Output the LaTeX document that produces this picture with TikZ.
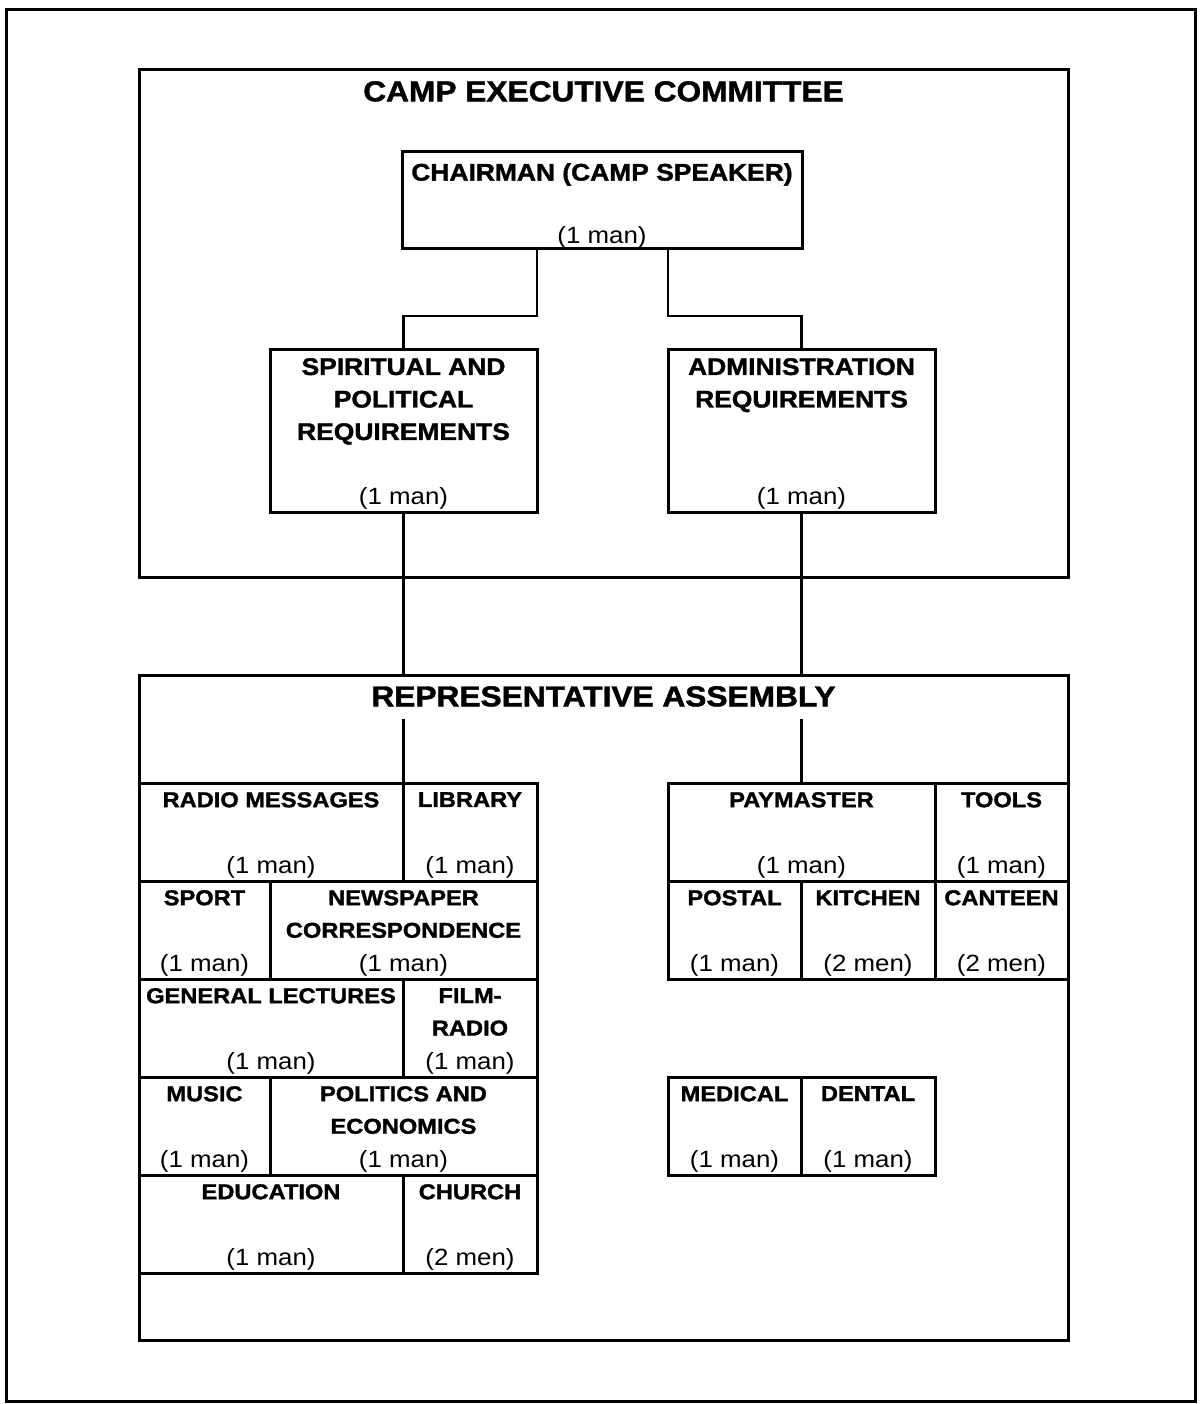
\documentclass[tikz,border=0pt]{standalone}
\usepackage{fontspec}
\setmainfont{Liberation Sans}[FakeStretch=1.1,BoldFeatures={FakeBold=1.5}]
\begin{document}
\begin{tikzpicture}[x=1pt,y=-1pt,
  box/.style={draw,line width=3pt,inner sep=0pt,outer sep=0pt},
  conn/.style={line width=2.2pt},
  ttl/.style={anchor=north,inner sep=0pt,align=center,font=\bfseries\fontsize{21.5}{32.5}\selectfont},
  topttl/.style={ttl,font=\bfseries\fontsize{24}{32.5}\selectfont},
  bigttl/.style={anchor=north,inner sep=0pt,font=\bfseries\fontsize{28.8}{30}\selectfont},
  cnt/.style={anchor=base,inner sep=0pt,font=\fontsize{23.5}{24}\selectfont}]
\useasboundingbox (0,0) rectangle (1199,1404);
\draw[line width=3pt] (6,10) rectangle (1195,1401);
% cell macro: name, x1, y1, x2, y2, title, count
\newcommand\cellbox[8][ttl]{%
  \node[box,minimum width={(#5-#3)*1pt},minimum height={(#6-#4)*1pt}] (#2) at ({(#3+#5)/2},{(#4+#6)/2}) {};
  \path (#2.north) ++(0,9) node[#1] (#2-t) {#7};
  \path (#2.south) ++(0,-8) node[cnt] (#2-c) {#8};}
% big boxes
\node[box,minimum width=929pt,minimum height=507pt] (exec) at (603.5,323.5) {};
\path (exec.north) ++(0,11) node[bigttl] (exec-t) {CAMP EXECUTIVE COMMITTEE};
\node[box,minimum width=929pt,minimum height=665pt] (assembly) at (603.5,1007.5) {};
\path (assembly.north) ++(0,11) node[bigttl] (assembly-t) {REPRESENTATIVE ASSEMBLY};
% top boxes
\node[box,minimum width=400pt,minimum height=97pt] (chair) at (602,200.5) {};
\path (chair.north) ++(0,11) node[topttl] (chair-t) {CHAIRMAN (CAMP SPEAKER)};
\path (chair.south) ++(0,-5) node[cnt] (chair-c) {(1 man)};
\cellbox[topttl]{spirit}{270}{349}{537}{512}{SPIRITUAL AND\\POLITICAL\\REQUIREMENTS}{(1 man)}
\cellbox[topttl]{admin}{668}{349}{935}{512}{ADMINISTRATION\\REQUIREMENTS}{(1 man)}
% left grid
\cellbox{radio}{139}{783}{403}{881}{RADIO MESSAGES}{(1 man)}
\cellbox{library}{403}{783}{537}{881}{LIBRARY}{(1 man)}
\cellbox{sport}{139}{881}{270}{979}{SPORT}{(1 man)}
\cellbox{news}{270}{881}{537}{979}{NEWSPAPER\\CORRESPONDENCE}{(1 man)}
\cellbox{lectures}{139}{979}{403}{1077}{GENERAL LECTURES}{(1 man)}
\cellbox{film}{403}{979}{537}{1077}{FILM-\\RADIO}{(1 man)}
\cellbox{music}{139}{1077}{270}{1175}{MUSIC}{(1 man)}
\cellbox{politics}{270}{1077}{537}{1175}{POLITICS AND\\ECONOMICS}{(1 man)}
\cellbox{education}{139}{1175}{403}{1273}{EDUCATION}{(1 man)}
\cellbox{church}{403}{1175}{537}{1273}{CHURCH}{(2 men)}
% right grid
\cellbox{paymaster}{668}{783}{935}{881}{PAYMASTER}{(1 man)}
\cellbox{tools}{935}{783}{1068}{881}{TOOLS}{(1 man)}
\cellbox{postal}{668}{881}{801}{979}{POSTAL}{(1 man)}
\cellbox{kitchen}{801}{881}{935}{979}{KITCHEN}{(2 men)}
\cellbox{canteen}{935}{881}{1068}{979}{CANTEEN}{(2 men)}
\cellbox{medical}{668}{1077}{801}{1175}{MEDICAL}{(1 man)}
\cellbox{dental}{801}{1077}{935}{1175}{DENTAL}{(1 man)}
% connectors
\draw[conn] (chair.south -| spirit.east) -- ++(0,67) -| (spirit.north);
\draw[conn] (chair.south -| admin.west) -- ++(0,67) -| (admin.north);
\coordinate (gapend) at ([yshift=-12pt]assembly-t.south);
\draw[conn] (spirit.south) -- (spirit.south |- assembly.north);
\draw[conn] (spirit.south |- gapend) -- (spirit.south |- radio.north);
\draw[conn] (admin.south) -- (admin.south |- assembly.north);
\draw[conn] (admin.south |- gapend) -- (admin.south |- paymaster.north);
\end{tikzpicture}
\end{document}
